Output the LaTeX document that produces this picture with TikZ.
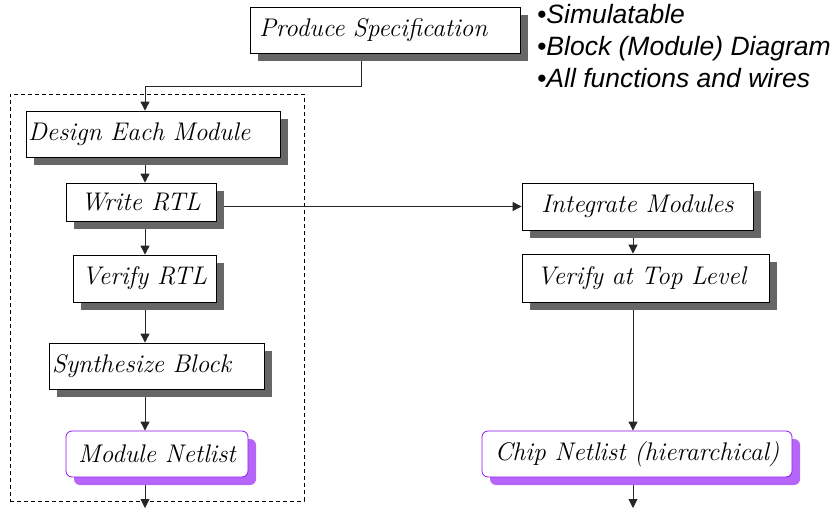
\documentclass[tikz,border=0pt]{standalone}
\usepackage{fontspec}
\usetikzlibrary{shadows,arrows.meta,calc}
\newfontfamily\bulletfont{Liberation Sans}
\definecolor{shgray}{HTML}{666666}
\definecolor{netpurple}{HTML}{9010F0}
\definecolor{netshadow}{HTML}{B566F8}
\pgfdeclarelayer{background}
\pgfsetlayers{background,main}
\begin{document}
\begin{tikzpicture}[x=1pt,y=-1pt,
  basebox/.style={draw=black, fill=white, line width=0.8pt, inner sep=0pt,
    font={\itshape\fontsize{25.5}{30}\selectfont}},
  box/.style={basebox, drop shadow={shadow xshift=8pt, shadow yshift=-8pt, fill=shgray, opacity=1}},
  netbox/.style={basebox, draw=netpurple, rounded corners=6pt,
    drop shadow={shadow xshift=8pt, shadow yshift=-8pt, fill=netshadow, opacity=1}},
  conn/.style={draw=black!85, line width=0.9pt, -{Triangle[width=9pt,length=9pt]}},
  grpbox/.style={draw=black, line width=0.8pt, dash pattern=on 4pt off 3pt, inner sep=0pt},
  note/.style={anchor=base west, inner sep=0pt, font={\bulletfont\itshape\fontsize{26.5}{32}\selectfont}}
]
\useasboundingbox (0,0) rectangle (837,508);

\node[box, text width=252pt, inner xsep=9pt, align=left, minimum height=46pt] (prod) at (385,30) {Produce Specification};
\node[box, text width=250pt, inner xsep=2pt, align=left, minimum height=46pt] (design) at (153,134) {Design Each Module};
\node[box, minimum width=150pt, minimum height=38pt] (write) at (141,202) {Write RTL};
\node[box, minimum width=143pt, minimum height=47pt] (verify) at (144.5,278.5) {Verify RTL};
\node[box, text width=209pt, inner xsep=3pt, align=left, minimum height=46pt] (synth) at (156.5,366) {Synthesize Block};
\node[netbox, minimum width=182pt, minimum height=46pt] (modnet) at (157,454) {Module Netlist};
\node[box, minimum width=231pt, minimum height=47pt] (integ) at (637.5,206.5) {Integrate Modules};
\node[box, text width=217pt, inner xsep=15pt, align=left, minimum height=48pt] (vtop) at (645.5,278) {Verify at Top Level};
\node[netbox, minimum width=310pt, minimum height=46pt] (chip) at (637,454) {Chip Netlist (hierarchical)};

\node[note] (note1) at (537,24) {•Simulatable};
\node[note] (note2) at (537,56) {•Block (Module) Diagram};
\node[note] (note3) at (537,88) {•All functions and wires};

\coordinate (colL) at (145,0);
\coordinate (colR) at (633,0);
\coordinate (bend) at (361,86);
\coordinate (endL) at (145,508);
\coordinate (endR) at (633,508);

\begin{pgfonlayer}{background}
\node[grpbox, minimum width=294pt, minimum height=407pt] (grp) at (157,297.5) {};
\draw[conn] (prod.south -| bend) -- (bend) -| (design.north -| colL);
\draw[conn] (design.south -| colL) -- (write.north -| colL);
\draw[conn] (write.south -| colL) -- (verify.north -| colL);
\draw[conn] (verify.south -| colL) -- (synth.north -| colL);
\draw[conn] (synth.south -| colL) -- (modnet.north -| colL);
\draw[conn] (modnet.south -| colL) -- (endL);
\draw[conn] (write.east |- integ.west) -- (integ.west);
\draw[conn] (integ.south -| colR) -- (vtop.north -| colR);
\draw[conn] (vtop.south -| colR) -- (chip.north -| colR);
\draw[conn] (chip.south -| colR) -- (endR);
\end{pgfonlayer}
\end{tikzpicture}
\end{document}
